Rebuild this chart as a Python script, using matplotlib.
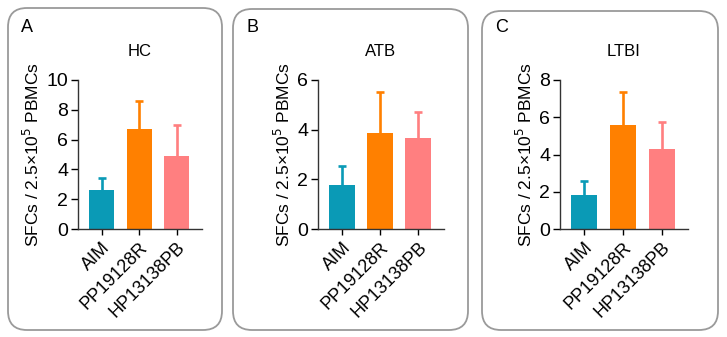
import matplotlib.pyplot as plt
from matplotlib.patches import FancyBboxPatch

plt.rcParams['font.family'] = ['Liberation Sans', 'DejaVu Sans']

categories = ['AIM', 'PP19128R', 'HP13138PB']
colors = ['#0A9AB6', '#FF8000', '#FF7F80']

panels = ['A', 'B', 'C']
titles = ['HC', 'ATB', 'LTBI']
means_hc = [2.65, 6.7, 4.9]
upper_hc = [3.4, 8.6, 6.95]
means_atb = [1.78, 3.88, 3.67]
upper_atb = [2.55, 5.52, 4.72]
means_ltbi = [1.85, 5.6, 4.3]
upper_ltbi = [2.6, 7.38, 5.72]
ymax = [10, 6, 8]
ystep = [2, 2, 2]

W, H = 727, 337
fig = plt.figure(figsize=(W / 100, H / 100), dpi=100)

# panel boxes (pixels: left, top, right, bottom)
boxes = [(8, 8, 222, 330), (233, 9, 468, 330), (482, 11, 718, 330)]
# axes (pixels: left, right) and y of baseline / top
axes_px = [(78, 202), (318, 444), (560, 688)]
y_bottom, y_top = 229, 80

means_all = [means_hc, means_atb, means_ltbi]
upper_all = [upper_hc, upper_atb, upper_ltbi]

for i in range(3):
    l, t, r, b = boxes[i]
    box = FancyBboxPatch((l / 100, (H - b) / 100), (r - l) / 100, (b - t) / 100,
                         boxstyle='round,pad=0,rounding_size=0.19',
                         transform=fig.dpi_scale_trans, facecolor='none',
                         edgecolor='#9a9a9a', linewidth=1.3)
    fig.patches.append(box)
    fig.text((l + 13) / W, 1 - 27 / H, panels[i], fontsize=13,
             va='center', ha='left')

    al, ar = axes_px[i]
    ax = fig.add_axes([al / W, 1 - y_bottom / H, (ar - al) / W, (y_bottom - y_top) / H])
    x = range(len(categories))
    means = means_all[i]
    err = [u - m for u, m in zip(upper_all[i], means)]
    ax.bar(x, means, width=0.67, color=colors, zorder=2)
    for j in x:
        eb = ax.errorbar(j, means[j], yerr=[[0], [err[j]]], color=colors[j],
                         capsize=3.2, elinewidth=1.9, capthick=1.9, zorder=1)
        eb[1][0].set_visible(False)
    ax.set_xlim(-0.63, 2.68)
    ax.set_ylim(0, ymax[i])
    ax.set_yticks(range(0, ymax[i] + 1, ystep[i]))
    ax.set_xticks(list(x))
    ax.set_xticklabels(categories, rotation=45, ha='right', rotation_mode='anchor',
                       fontsize=13)
    ax.tick_params(axis='y', labelsize=14, length=5, width=1, pad=2)
    ax.tick_params(axis='x', length=4, width=1, pad=3)
    for s in ['top', 'right']:
        ax.spines[s].set_visible(False)
    for s in ['left', 'bottom']:
        ax.spines[s].set_linewidth(1)
        ax.spines[s].set_color('#333333')
    ax.set_ylabel('SFCs / 2.5×10$^5$ PBMCs', fontsize=12.5, labelpad=3)
    ax.set_title(titles[i], fontsize=12, pad=17)

fig.savefig('out.png', dpi=100)
